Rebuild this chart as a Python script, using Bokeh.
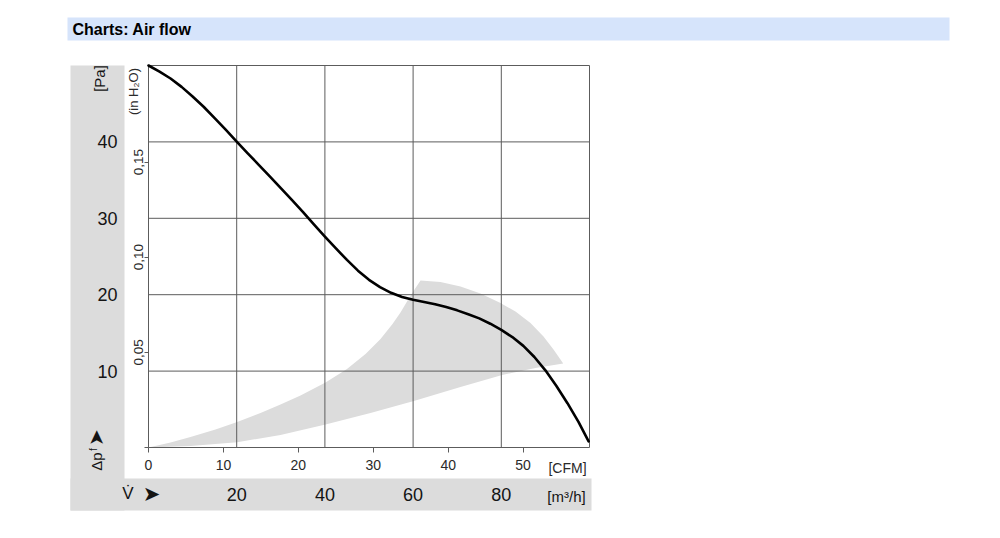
import math
from bokeh.plotting import figure
from bokeh.models import Range1d, LinearAxis, FixedTicker
from bokeh.core.properties import value
from bokeh.embed import file_html
from bokeh.resources import INLINE

# ---------------- data ----------------
# fan curve: volume flow [m³/h] vs static pressure [Pa]
flow_m3h = [0, 2.5, 5, 7.5, 10, 12.5, 15, 17.5, 20, 22.5, 25, 27.5, 30, 32.5, 35,
            37.5, 40, 42.5, 45, 47.5, 50, 52.5, 55, 57.5, 60, 62.5, 65, 67.5, 70,
            72.5, 75, 77.5, 80, 82.5, 85, 87.5, 90, 92.5, 95, 97.5, 99.8]
pressure_pa = [50.0, 49.2, 48.3, 47.2, 45.95, 44.6, 43.1, 41.6, 40.05, 38.5, 37.0,
               35.5, 33.95, 32.4, 30.85, 29.2, 27.6, 26.05, 24.55, 23.15, 21.95,
               21.0, 20.25, 19.7, 19.35, 19.05, 18.75, 18.4, 17.95, 17.45, 16.9,
               16.2, 15.4, 14.45, 13.3, 11.85, 10.1, 8.05, 5.8, 3.35, 0.8]

# recommended operating zone (outline: lower edge, outer arc, upper-left edge)
zone_m3h = [0, 9.52, 20.11, 29.93, 40.14, 50.34, 60.16, 70.75, 80.20, 87.76,
            94.04, 91.84, 89.57, 86.62, 83.22, 79.82, 75.28, 70.75, 66.21, 61.68,
            60.32, 58.96, 57.14, 55.33, 52.61, 49.21, 45.01, 40.14, 34.47, 29.93,
            25.40, 20.11, 15.19, 9.52, 4.99, 0]
zone_pa = [0, 0.20, 0.69, 1.64, 3.01, 4.52, 6.09, 7.92, 9.49, 10.41,
           10.99, 12.83, 14.53, 16.30, 17.80, 18.91, 20.16, 21.07, 21.66, 21.86,
           20.68, 19.44, 17.67, 16.16, 14.20, 12.24, 10.27, 8.51, 6.81, 5.63,
           4.52, 3.34, 2.36, 1.37, 0.65, 0]

pa_ticks = [10, 20, 30, 40]
m3h_ticks = [20, 40, 60, 80]
cfm_ticks = [0, 10, 20, 30, 40, 50]
inh2o_ticks = [0.0, 0.05, 0.10, 0.15]
inh2o_labels = ["", "0,05", "0,10", "0,15"]
grid_x = [20, 40, 60, 80]
grid_y = [10, 20, 30, 40]
X_MAX, Y_MAX = 100, 50
M3H_PER_CFM = 1.699
PA_PER_INH2O = 249.089

# ---------------- layout (picture pixels) ----------------
W, H = 984, 522
PX0, PX1 = 148, 589      # plot frame left/right
PY1, PY0 = 65, 447       # plot frame top/bottom
SX = (PX1 - PX0) / X_MAX
SY = (PY0 - PY1) / Y_MAX


def dx(xp):
    return (xp - PX0) / SX


def dy(yp):
    return (PY0 - yp) / SY


x_range = Range1d(dx(0), dx(W))
y_range = Range1d(dy(H), dy(0))

p = figure(width=W, height=H, x_range=x_range, y_range=y_range,
           x_axis_location=None, y_axis_location=None,
           toolbar_location=None, output_backend="svg", min_border=0,
           outline_line_color=None, background_fill_color="white",
           border_fill_color="white")
p.grid.visible = False
p.extra_x_ranges = {"cfm": Range1d(x_range.start / M3H_PER_CFM, x_range.end / M3H_PER_CFM)}
p.extra_y_ranges = {"inh2o": Range1d(y_range.start / PA_PER_INH2O, y_range.end / PA_PER_INH2O)}

GRAY = "#dcdcdc"
LINE = "#5c5c5c"
INK = "#141414"

# panels
p.quad(left=[dx(67)], right=[dx(949)], top=[dy(17)], bottom=[dy(40)],
       fill_color="#d6e4fb", line_color=None, level="image")
p.quad(left=[dx(70), dx(70)], right=[dx(124), dx(591)], top=[dy(65), dy(478)],
       bottom=[dy(510), dy(510)], fill_color=GRAY, line_color=None, level="image")

# operating zone
p.patch(zone_m3h, zone_pa, fill_color=GRAY, line_color=None, level="image")

# grid lines and frame
p.segment(x0=grid_x, y0=[0] * len(grid_x), x1=grid_x, y1=[Y_MAX] * len(grid_x),
          line_color=LINE, line_width=1)
p.segment(x0=[0] * len(grid_y), y0=grid_y, x1=[X_MAX] * len(grid_y), y1=grid_y,
          line_color=LINE, line_width=1)
p.quad(left=[0], right=[X_MAX], bottom=[0], top=[Y_MAX], fill_color=None,
       line_color=LINE, line_width=1)

# curve
p.line(flow_m3h, pressure_pa, line_color="black", line_width=2.6,
       line_join="round", line_cap="round")

FONT = "Liberation Sans"

# axes
ax_pa = LinearAxis(ticker=FixedTicker(ticks=pa_ticks), fixed_location=dx(124),
                   axis_line_color=None, major_tick_line_color=None,
                   minor_tick_line_color=None, major_tick_in=0, major_tick_out=0,
                   major_label_standoff=7, major_label_text_font=FONT,
                   major_label_text_font_size="18px", major_label_text_color=INK)
p.add_layout(ax_pa, "left")

ax_in = LinearAxis(y_range_name="inh2o", ticker=FixedTicker(ticks=inh2o_ticks),
                   fixed_location=0, axis_line_color=None,
                   major_tick_line_color=LINE, major_tick_in=0, major_tick_out=4,
                   minor_tick_line_color=None, major_label_standoff=1,
                   major_label_orientation="vertical",
                   major_label_overrides={t: s for t, s in zip(inh2o_ticks, inh2o_labels)},
                   major_label_text_font=FONT, major_label_text_font_size="13.5px",
                   major_label_text_color="#2a2a2a")
p.add_layout(ax_in, "left")

ax_cfm = LinearAxis(x_range_name="cfm", ticker=FixedTicker(ticks=cfm_ticks),
                    fixed_location=0, axis_line_color=None,
                    major_tick_line_color=LINE, major_tick_in=0, major_tick_out=5,
                    minor_tick_line_color=None, major_label_standoff=7,
                    major_label_text_font=FONT, major_label_text_font_size="14px",
                    major_label_text_color="#2a2a2a")
p.add_layout(ax_cfm, "below")

ax_m3h = LinearAxis(ticker=FixedTicker(ticks=m3h_ticks), fixed_location=dy(478),
                    axis_line_color=None, major_tick_line_color=None,
                    minor_tick_line_color=None, major_tick_in=0, major_tick_out=0,
                    major_label_standoff=9, major_label_text_font=FONT,
                    major_label_text_font_size="18px", major_label_text_color=INK)
p.add_layout(ax_m3h, "below")


def label(xp, yp, txt, size, angle=0.0, font=FONT, style="normal",
          align="center", color=INK):
    p.text(x=[dx(xp)], y=[dy(yp)], text=[txt], angle=angle,
           text_font=value(font), text_font_size=f"{size}px",
           text_font_style=style, text_align=align, text_baseline="middle",
           text_color=color)


label(72, 29, "Charts: Air flow", 16, style="bold", align="left", color="black")
label(99, 78, "[Pa]", 15, angle=math.pi / 2)
label(133, 91, "(in H₂O)", 13, angle=math.pi / 2, color="#2a2a2a")
label(96, 461, "Δp", 15, angle=math.pi / 2)
label(93, 449, "f", 10, angle=math.pi / 2)
label(95, 437, "➤", 20, angle=math.pi / 2, font="DejaVu Sans")
label(127.5, 493, "V̇", 17)
label(151, 493, "➤", 21, font="DejaVu Sans")
label(567, 467, "[CFM]", 14, color="#2a2a2a")
label(566, 496, "[m³/h]", 15)

open("out.html", "w").write(file_html(p, INLINE))
